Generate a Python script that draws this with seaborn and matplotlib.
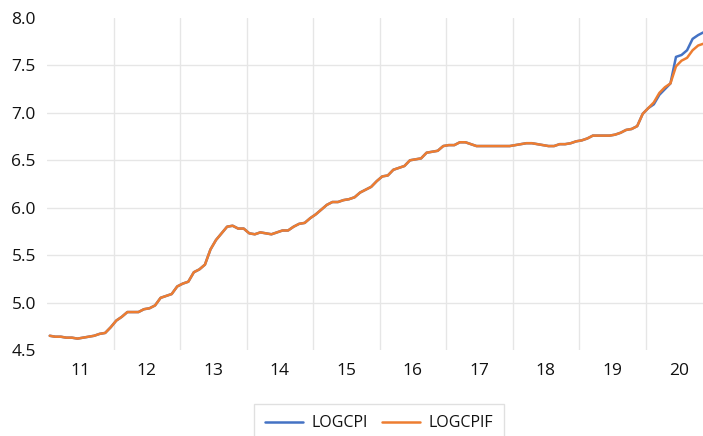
import matplotlib
matplotlib.use("Agg")
import matplotlib.pyplot as plt
import seaborn as sns
import pandas as pd
import numpy as np

# ===============================
# Data (monthly, 2011M01 - 2020M12)
# ===============================
year_labels = ["11", "12", "13", "14", "15", "16", "17", "18", "19", "20"]

logcpif = [
    4.65, 4.64, 4.64, 4.63, 4.63, 4.62, 4.63, 4.64, 4.65, 4.67, 4.68, 4.74,
    4.81, 4.85, 4.90, 4.90, 4.90, 4.93, 4.94, 4.97, 5.05, 5.07, 5.09, 5.17,
    5.20, 5.22, 5.32, 5.35, 5.40, 5.56, 5.66, 5.73, 5.80, 5.81, 5.78, 5.78,
    5.73, 5.72, 5.74, 5.73, 5.72, 5.74, 5.76, 5.76, 5.80, 5.83, 5.84, 5.89,
    5.93, 5.98, 6.03, 6.06, 6.06, 6.08, 6.09, 6.11, 6.16, 6.19, 6.22, 6.28,
    6.33, 6.34, 6.40, 6.42, 6.44, 6.50, 6.51, 6.52, 6.58, 6.59, 6.60, 6.65,
    6.66, 6.66, 6.69, 6.69, 6.67, 6.65, 6.65, 6.65, 6.65, 6.65, 6.65, 6.65,
    6.66, 6.67, 6.68, 6.68, 6.67, 6.66, 6.65, 6.65, 6.67, 6.67, 6.68, 6.70,
    6.71, 6.73, 6.76, 6.76, 6.76, 6.76, 6.77, 6.79, 6.82, 6.83, 6.86, 6.99,
    7.05, 7.11, 7.21, 7.27, 7.31, 7.49, 7.55, 7.58, 7.66, 7.71, 7.73, 7.74,
]
logcpi_2020 = [7.05, 7.09, 7.19, 7.25, 7.31, 7.59, 7.61, 7.66, 7.78, 7.82, 7.85, 7.87]
logcpi = logcpif[:108] + logcpi_2020

months = list(range(len(logcpif)))

df = pd.DataFrame({
    "month": months * 2,
    "value": logcpi + logcpif,
    "series": ["LOGCPI"] * len(months) + ["LOGCPIF"] * len(months),
})

# ===============================
# Figure
# ===============================
sns.set_style("white")
plt.rcParams["font.family"] = ["Open Sans", "DejaVu Sans"]

fig = plt.figure(figsize=(7.03, 4.36), dpi=100)
ax = fig.add_axes([47 / 703, 86 / 436, 665 / 703, 332 / 436])

sns.lineplot(data=df, x="month", y="value", hue="series",
             palette={"LOGCPI": "#4472C4", "LOGCPIF": "#ED7D31"},
             linewidth=1.8, ax=ax)

ax.set_xlim(-0.5, 119.5)
ax.set_ylim(4.5, 8.0)

# y axis
yt = np.arange(4.5, 8.01, 0.5)
ax.set_yticks(yt)
ax.set_yticklabels([f"{v:.1f}" for v in yt], fontsize=12.5, color="#111111")
ax.tick_params(axis="y", length=0, pad=8)
ax.grid(axis="y", color="#E6E6E6", linewidth=1)
gl = ax.yaxis.get_gridlines()
gl[0].set_visible(False)
gl[-1].set_visible(False)

# x axis: labels at year centers, grid at year boundaries
ax.set_xticks([12 * i + 5.5 for i in range(len(year_labels))])
ax.set_xticklabels(year_labels, fontsize=12.5, color="#111111")
ax.set_xticks([12 * i - 0.5 for i in range(1, len(year_labels))], minor=True)
ax.tick_params(axis="x", which="both", length=0, pad=9)
ax.grid(axis="x", which="minor", color="#E6E6E6", linewidth=1)
ax.grid(axis="x", which="major", visible=False)

ax.set_xlabel("")
ax.set_ylabel("")
for s in ax.spines.values():
    s.set_visible(False)

handles, labels = ax.get_legend_handles_labels()
leg = ax.legend(handles, labels, loc="upper center", ncol=2,
                bbox_to_anchor=(379 / 703, 1 - 404 / 436), bbox_transform=fig.transFigure,
                fontsize=11.5, frameon=True, edgecolor="#D9D9D9", fancybox=False,
                handlelength=2.4, handletextpad=0.5, columnspacing=0.9,
                borderpad=0.7, borderaxespad=0)
for t in leg.get_texts():
    t.set_color("#111111")

fig.savefig("out.png", dpi=100)
plt.close(fig)
